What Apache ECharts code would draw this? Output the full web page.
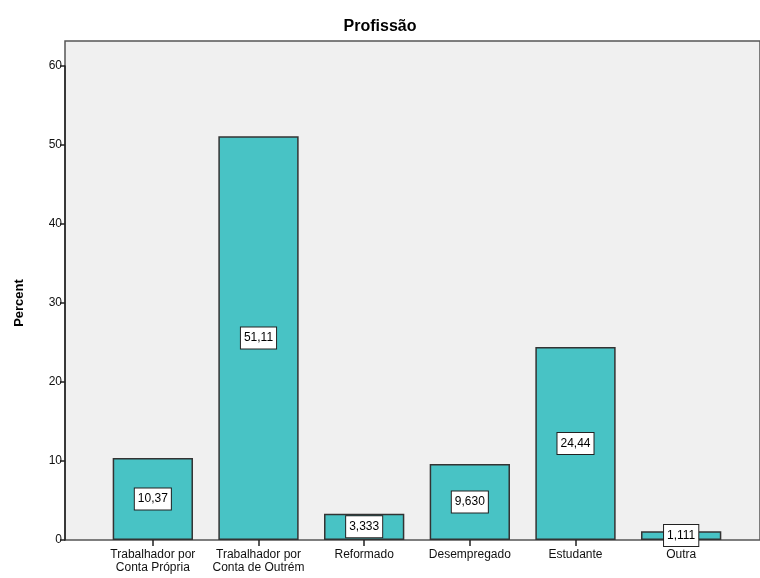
<!DOCTYPE html>
<html>
<head>
<meta charset="utf-8">
<script src="https://cdn.jsdelivr.net/npm/echarts@6/dist/echarts.min.js"></script>
<style>
  html, body { margin: 0; padding: 0; background: #fff; }
  #chart { width: 760px; height: 578px; }
</style>
</head>
<body>
<div id="chart"></div>
<script>
// Occupation distribution (percent of respondents)
const categories = [
  'Trabalhador por\nConta Própria',
  'Trabalhador por\nConta de Outrém',
  'Reformado',
  'Desempregado',
  'Estudante',
  'Outra'
];
const percentValues = [10.37, 51.11, 3.333, 9.630, 24.44, 1.111];
const yTicks = [0, 10, 20, 30, 40, 50, 60];

const FONT = '"Liberation Sans", Arial, sans-serif';

// Four significant digits, comma as decimal separator
function fmt(v) {
  return Number(v).toPrecision(4).replace('.', ',');
}

const chart = echarts.init(document.getElementById('chart'), null, { renderer: 'canvas' });

chart.setOption({
  animation: false,
  backgroundColor: '#ffffff',
  title: {
    text: 'Profissão',
    left: 'center',
    top: 14,
    textStyle: { fontFamily: FONT, fontSize: 16, fontWeight: 'bold', color: '#000' }
  },
  grid: [
    // plotting grid for the bars
    { left: 100, right: 26, top: 66, bottom: 38, containLabel: false },
    // framed panel behind the bars
    { left: 65, right: -10, top: 41, bottom: 38, show: true,
      backgroundColor: '#f0f0f0', borderColor: '#555', borderWidth: 1.5, z: 0 }
  ],
  xAxis: [
    {
      type: 'category',
      gridIndex: 0,
      data: categories,
      axisLine: { show: false },
      axisTick: { show: true, alignWithLabel: true, length: 6, lineStyle: { color: '#222', width: 1.5 } },
      axisLabel: { fontFamily: FONT, fontSize: 12, color: '#111', lineHeight: 13, margin: 8, interval: 0 }
    },
    { type: 'value', gridIndex: 1, show: false, min: 0, max: 1 }
  ],
  yAxis: [
    {
      type: 'value',
      gridIndex: 0,
      min: 0,
      max: 60,
      interval: 10,
      offset: 35,
      name: 'Percent',
      nameLocation: 'middle',
      nameGap: 39,
      nameTextStyle: { fontFamily: FONT, fontSize: 13, fontWeight: 'bold', color: '#000' },
      axisLine: { show: true, lineStyle: { color: '#222', width: 1.5 } },
      axisTick: { show: true, length: 5, lineStyle: { color: '#222', width: 1.5 }, customValues: yTicks },
      axisLabel: { fontFamily: FONT, fontSize: 12, color: '#111', margin: 3, customValues: yTicks },
      splitLine: { show: false }
    },
    { type: 'value', gridIndex: 1, show: false, min: 0, max: 1 }
  ],
  series: [{
    type: 'bar',
    xAxisIndex: 0,
    yAxisIndex: 0,
    data: percentValues,
    barWidth: '76%',
    itemStyle: { color: '#48c3c5', borderColor: '#333', borderWidth: 1.5 },
    label: {
      show: true,
      position: 'inside',
      formatter: p => fmt(p.value),
      fontFamily: FONT,
      fontSize: 12,
      color: '#000',
      backgroundColor: '#fff',
      borderColor: '#222',
      borderWidth: 1,
      padding: [5, 3, 4, 3]
    },
    z: 3
  }]
});
</script>
</body>
</html>
